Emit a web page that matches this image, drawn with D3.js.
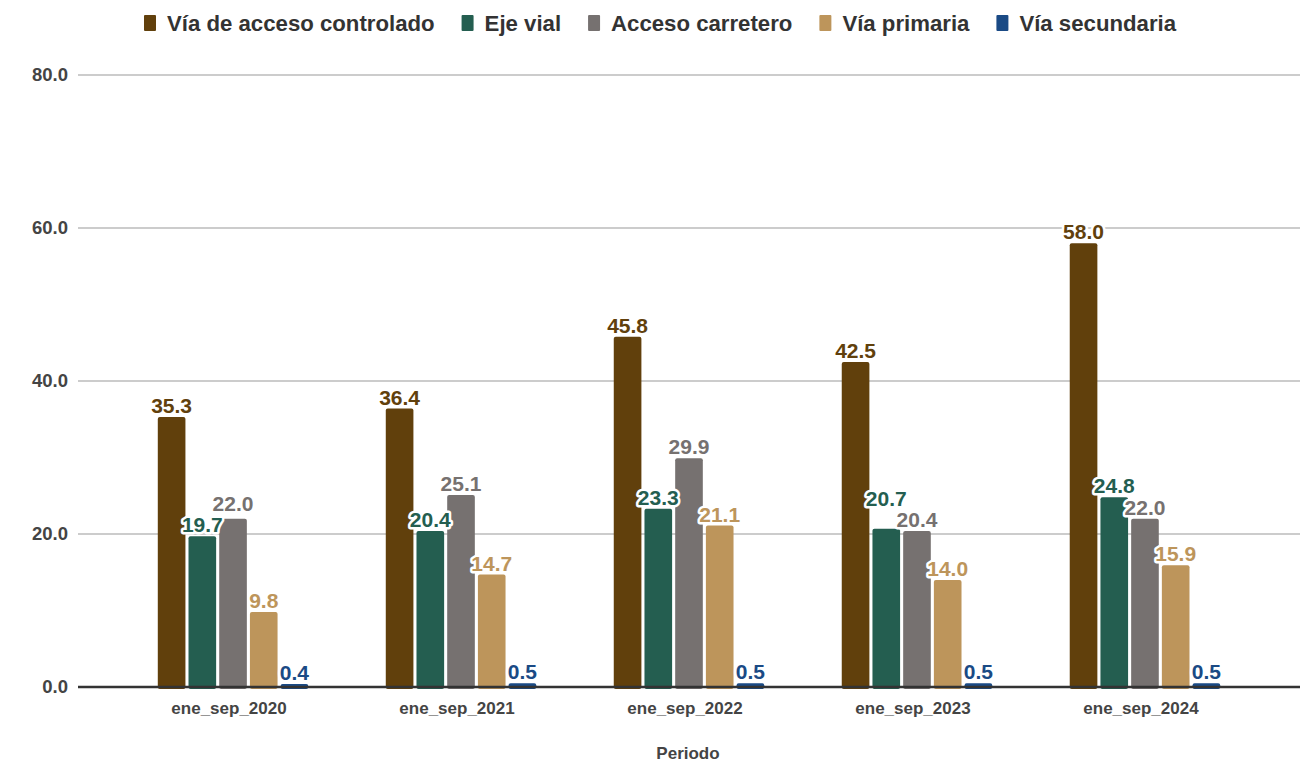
<!DOCTYPE html>
<html>
<head>
<meta charset="utf-8">
<script src="https://cdn.jsdelivr.net/npm/d3@7"></script>
<style>
  html, body { margin: 0; padding: 0; background: #fff; }
  svg { display: block; font-family: "Liberation Sans", Arial, sans-serif; }
</style>
</head>
<body>
<svg id="chart" width="1310" height="762"></svg>
<script>
// Periods on the x axis
const periods = ["ene_sep_2020", "ene_sep_2021", "ene_sep_2022", "ene_sep_2023", "ene_sep_2024"];

// Series names (legend order)
const seriesNames = ["Vía de acceso controlado", "Eje vial", "Acceso carretero", "Vía primaria", "Vía secundaria"];
const seriesColors = ["#61400c", "#245e50", "#767170", "#bd955b", "#1a4a85"];

// Values per series, one entry per period
const viaAccesoControlado = [35.3, 36.4, 45.8, 42.5, 58.0];
const ejeVial             = [19.7, 20.4, 23.3, 20.7, 24.8];
const accesoCarretero     = [22.0, 25.1, 29.9, 20.4, 22.0];
const viaPrimaria         = [9.8, 14.7, 21.1, 14.0, 15.9];
const viaSecundaria       = [0.4, 0.5, 0.5, 0.5, 0.5];

// Y axis ticks
const yTicks = [0, 20, 40, 60, 80];
const xTitle = "Periodo";

const seriesValues = [viaAccesoControlado, ejeVial, accesoCarretero, viaPrimaria, viaSecundaria];

const svg = d3.select("#chart");
const plotL = 78, plotR = 1300, plotT = 75, plotB = 687;

const x0 = d3.scaleBand().domain(periods).range([plotL, plotR])
  .paddingInner(0.34).paddingOuter(0.35);
const x1 = d3.scaleBand().domain(d3.range(seriesNames.length))
  .range([0, x0.bandwidth()]).paddingInner(0.1).paddingOuter(0);
const y = d3.scaleLinear().domain([0, 80]).range([plotB, plotT]);

// Gridlines
svg.append("g")
  .selectAll("line").data(yTicks.filter(t => t > 0)).join("line")
  .attr("x1", plotL).attr("x2", plotR)
  .attr("y1", d => y(d)).attr("y2", d => y(d))
  .attr("stroke", "#cccccc").attr("stroke-width", 2);

// Y axis labels
const yAxis = svg.append("g")
  .attr("transform", `translate(${plotL - 10},0)`)
  .call(d3.axisLeft(y).tickValues(yTicks).tickFormat(d3.format(".1f")).tickSize(0).tickPadding(0));
yAxis.select(".domain").remove();
yAxis.selectAll("text")
  .attr("font-size", 18.5).attr("font-weight", "bold").attr("fill", "#444")
  .attr("font-family", "Liberation Sans, Arial, sans-serif");

// Bars
const groups = svg.append("g").selectAll("g").data(periods).join("g")
  .attr("transform", d => `translate(${x0(d)},0)`);

groups.selectAll("rect")
  .data((p, pi) => seriesValues.map((vals, si) => ({ si, v: vals[pi] })))
  .join("rect")
  .attr("x", d => x1(d.si))
  .attr("width", x1.bandwidth())
  .attr("y", d => y(d.v))
  .attr("height", d => plotB - y(d.v) + 2)
  .attr("rx", 2).attr("ry", 2)
  .attr("fill", d => seriesColors[d.si]);

// Baseline
svg.append("line")
  .attr("x1", plotL).attr("x2", plotR)
  .attr("y1", y(0)).attr("y2", y(0))
  .attr("stroke", "#333").attr("stroke-width", 2.5);

// X axis labels
const xAxis = svg.append("g")
  .attr("transform", `translate(-4,${plotB + 15})`)
  .call(d3.axisBottom(x0).tickSize(0).tickPadding(0));
xAxis.select(".domain").remove();
xAxis.selectAll("text")
  .attr("font-size", 17).attr("font-weight", "bold").attr("fill", "#444")
  .attr("font-family", "Liberation Sans, Arial, sans-serif")
  .attr("dy", "0.71em");

svg.append("text")
  .attr("x", (plotL + plotR) / 2 - 1).attr("y", 759)
  .attr("text-anchor", "middle")
  .attr("font-size", 17).attr("font-weight", "bold").attr("fill", "#444")
  .text(xTitle);

// Value labels, nudged upward when neighbouring labels would overlap
const labelSize = 21;
const capH = labelSize * 0.716;
const labelGap = 6;
const labelData = [];
periods.forEach((p, pi) => {
  const vals = seriesValues.map(s => s[pi]);
  const base = vals.map(v => y(v) - 4);
  for (let i = 0; i < vals.length - 1; i++) {
    const a = i, b = i + 1;
    if (Math.abs(base[a] - base[b]) < capH + labelGap) {
      const hi = vals[a] >= vals[b] ? a : b;
      const lo = hi === a ? b : a;
      base[hi] = Math.min(base[hi], base[lo] - capH - labelGap);
    }
  }
  vals.forEach((v, si) => labelData.push({
    x: x0(p) + x1(si) + x1.bandwidth() / 2,
    y: base[si], v, si
  }));
});

svg.append("g").selectAll("text").data(labelData).join("text")
  .attr("x", d => d.x).attr("y", d => d.y)
  .attr("text-anchor", "middle")
  .attr("font-size", labelSize).attr("font-weight", "bold")
  .attr("fill", d => seriesColors[d.si])
  .attr("stroke", "#fff").attr("stroke-width", 5)
  .attr("stroke-linejoin", "round")
  .attr("paint-order", "stroke")
  .text(d => d3.format(".1f")(d.v));

// Legend
const legend = svg.append("g");
let lx = 144;
seriesNames.forEach((name, i) => {
  legend.append("rect")
    .attr("x", lx).attr("y", 15).attr("width", 12).attr("height", 16)
    .attr("rx", 1)
    .attr("fill", seriesColors[i]);
  const t = legend.append("text")
    .attr("x", lx + 23).attr("y", 31)
    .attr("font-size", 22.2).attr("font-weight", "bold").attr("fill", "#333")
    .text(name);
  lx += 23 + t.node().getComputedTextLength() + 27;
});
</script>
</body>
</html>
